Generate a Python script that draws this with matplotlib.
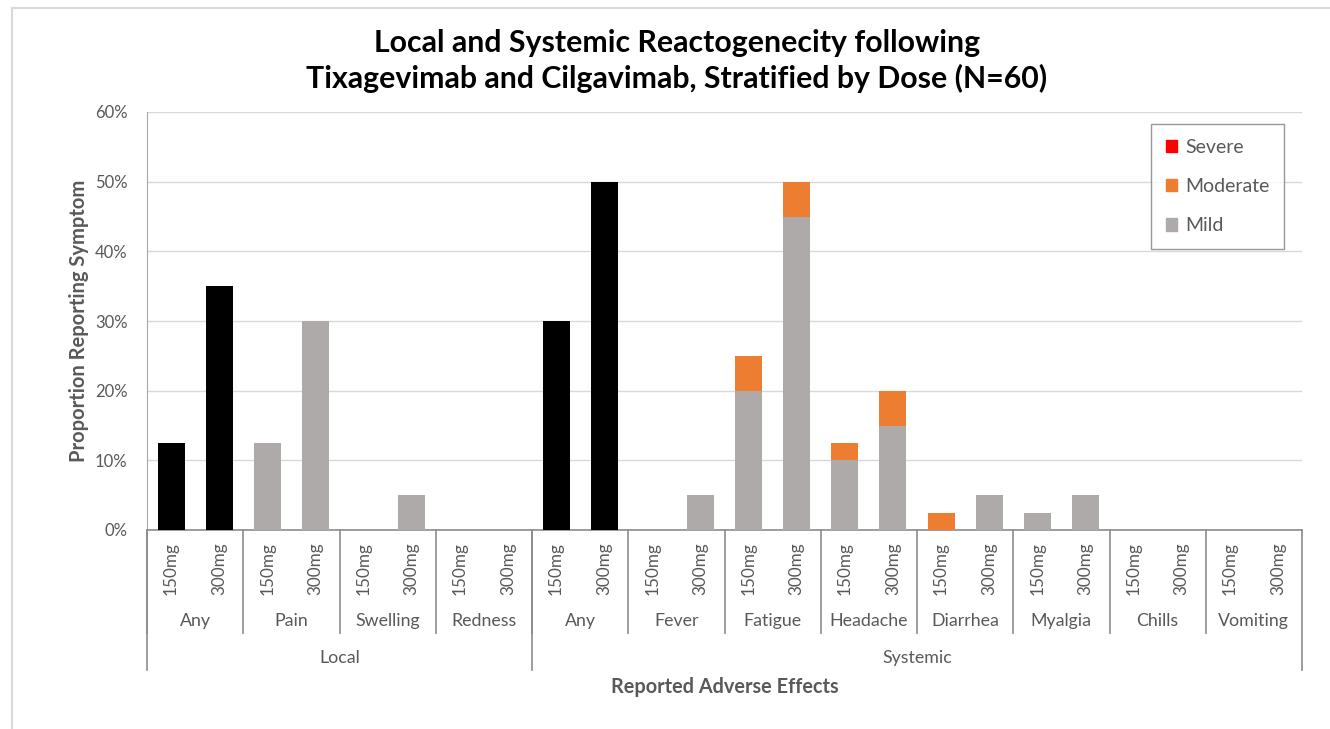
import numpy as np
import matplotlib.pyplot as plt
from matplotlib.patches import Patch
from matplotlib.transforms import blended_transform_factory

plt.rcParams["font.family"] = ["Lato", "DejaVu Sans"]

# data (proportion, %)
groups = ["Local", "Systemic"]
symptoms = ["Any", "Pain", "Swelling", "Redness",
            "Any", "Fever", "Fatigue", "Headache", "Diarrhea", "Myalgia", "Chills", "Vomiting"]
symptom_group = [0, 0, 0, 0, 1, 1, 1, 1, 1, 1, 1, 1]
doses = ["150mg", "300mg"]

# one value per bar (symptom x dose)
any_vals = [12.5, 35, 0, 0, 0, 0, 0, 0,
            30, 50, 0, 0, 0, 0, 0, 0, 0, 0, 0, 0, 0, 0, 0, 0]
mild = [0, 0, 12.5, 30, 0, 5, 0, 0,
        0, 0, 0, 5, 20, 45, 10, 15, 0, 5, 2.5, 5, 0, 0, 0, 0]
moderate = [0, 0, 0, 0, 0, 0, 0, 0,
            0, 0, 0, 0, 5, 5, 2.5, 5, 2.5, 0, 0, 0, 0, 0, 0, 0]
severe = [0] * 24

c_mild = "#AEAAAA"
c_mod = "#ED7D31"
c_sev = "#FF0000"
c_txt = "#595959"
c_line = "#8C8C8C"

fig = plt.figure(figsize=(13.3, 7.29), dpi=100)
ax = fig.add_axes([147 / 1330, 1 - 530 / 729, 1155 / 1330, 418 / 729])

x = np.arange(len(mild))
w = 0.56
mild_a = np.array(mild)
mod_a = np.array(moderate)
ax.bar(x, any_vals, w, color="black", zorder=3)
ax.bar(x, mild_a, w, color=c_mild, zorder=3)
ax.bar(x, mod_a, w, bottom=mild_a, color=c_mod, zorder=3)
ax.bar(x, severe, w, bottom=mild_a + mod_a, color=c_sev, zorder=3)

ax.set_xlim(-0.5, len(mild) - 0.5)
ax.set_ylim(0, 60)
ax.set_yticks(np.arange(0, 61, 10))
ax.set_yticklabels([f"{v}%" for v in range(0, 61, 10)])
ax.yaxis.grid(True, color="#D9D9D9", lw=1)
ax.set_axisbelow(True)
ax.tick_params(axis="y", length=0, labelsize=12, colors=c_txt, pad=14)
ax.set_xticks([])
for s in ["top", "right"]:
    ax.spines[s].set_visible(False)
ax.spines["left"].set_color("#A6A6A6")
ax.spines["bottom"].set_color(c_line)
ax.spines["bottom"].set_linewidth(1.2)

ax.set_ylabel("Proportion Reporting Symptom", fontsize=14.5, fontweight="bold",
              color=c_txt, labelpad=4)

# multi-level category axis
tr = blended_transform_factory(ax.transData, fig.transFigure)
def fy(py):
    return 1 - py / 729

for i in x:
    ax.text(i, fy(569), doses[i % 2], transform=tr, rotation=90,
            ha="center", va="center", fontsize=12.3, color=c_txt)
for j, name in enumerate(symptoms):
    ax.text(2 * j + 0.5, fy(621), name, transform=tr,
            ha="center", va="center", fontsize=12.8, color=c_txt)
    ax.plot([2 * j - 0.5] * 2, [fy(530), fy(633)], transform=tr,
            color=c_line, lw=1.2, clip_on=False)
ax.plot([len(mild) - 0.5] * 2, [fy(530), fy(670)], transform=tr,
        color=c_line, lw=1.2, clip_on=False)
for g, name in enumerate(groups):
    idx = [j for j, sg in enumerate(symptom_group) if sg == g]
    left = 2 * idx[0] - 0.5
    right = 2 * idx[-1] + 1.5
    ax.plot([left] * 2, [fy(530), fy(670)], transform=tr,
            color=c_line, lw=1.2, clip_on=False)
    ax.text((left + right) / 2, fy(658), name, transform=tr,
            ha="center", va="center", fontsize=12.8, color=c_txt)

fig.text(ax.get_position().x0 + ax.get_position().width / 2, fy(687),
         "Reported Adverse Effects", ha="center", va="center",
         fontsize=14.3, fontweight="bold", color=c_txt)

fig.text(677 / 1330, fy(61), "Local and Systemic Reactogenecity following\n"
         "Tixagevimab and Cilgavimab, Stratified by Dose (N=60)",
         ha="center", va="center", fontsize=21.8, fontweight="bold",
         color="black", linespacing=1.25)

handles = [Patch(color=c_sev, label="Severe"),
           Patch(color=c_mod, label="Moderate"),
           Patch(color=c_mild, label="Mild")]
leg = ax.legend(handles=handles, loc="upper right", bbox_to_anchor=(1284 / 1330, fy(124)),
                bbox_transform=fig.transFigure, fontsize=14, frameon=True,
                fancybox=False, handlelength=0.6, handleheight=0.6,
                handletextpad=0.4, labelspacing=1.15, borderpad=0.75,
                borderaxespad=0)
leg.get_frame().set_edgecolor("#7F7F7F")
leg.get_frame().set_linewidth(1)
for t in leg.get_texts():
    t.set_color(c_txt)

# outer chart frame (cropped at right and bottom)
fig.add_artist(plt.Line2D([12 / 1330, 1], [fy(8), fy(8)], color="#D9D9D9", lw=1.5))
fig.add_artist(plt.Line2D([12 / 1330, 12 / 1330], [fy(8), 0], color="#D9D9D9", lw=1.5))

fig.savefig("out.png", dpi=100)
